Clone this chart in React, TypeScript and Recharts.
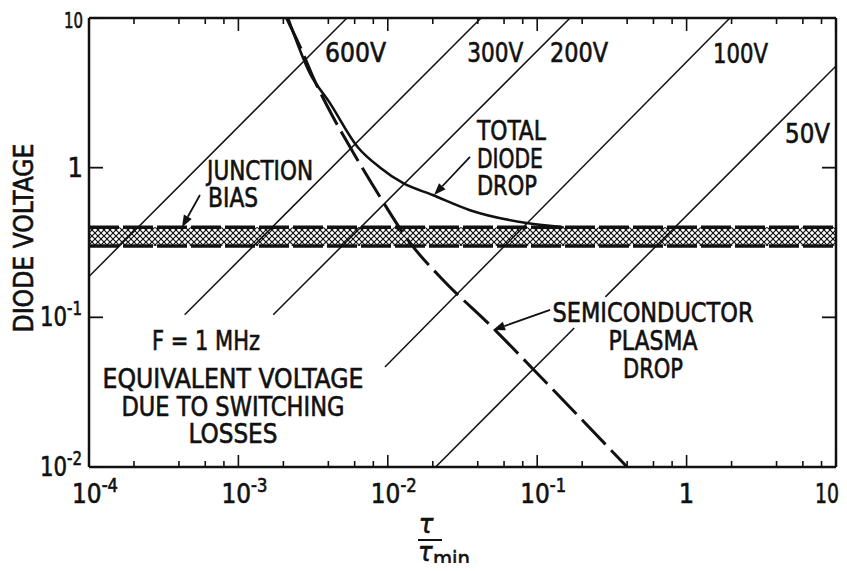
import React from 'react';
import {
  ComposedChart,
  Line,
  XAxis,
  YAxis,
  ReferenceArea,
  ReferenceLine,
  ReferenceDot,
} from 'recharts';

const FONT = "'Liberation Sans Narrow', 'DejaVu Sans Condensed', 'Arial Narrow', sans-serif";
const INK = '#111';

// ---- axes -------------------------------------------------------------
const xDomain: [number, number] = [1e-4, 10];
const xDecades = [1e-4, 1e-3, 1e-2, 1e-1, 1, 10];
const xDecadeLabels = [
  ['10', '-4'],
  ['10', '-3'],
  ['10', '-2'],
  ['10', '-1'],
  ['1', ''],
  ['10', ''],
];
const xMinorSteps = [2, 4, 6, 8];

const yDomain: [number, number] = [0.01, 10];
const yDecades = [0.01, 0.1, 1, 10];
const yDecadeLabels = [
  ['10', '-2'],
  ['10', '-1'],
  ['1', ''],
  ['10', ''],
];

// ---- curves -----------------------------------------------------------
// semiconductor plasma drop (V) versus tau / tau_min
const plasmaTau = [2.1e-3, 2.7e-3, 3.16e-3, 4.3e-3, 5.85e-3, 8.87e-3, 1.41e-2, 2.24e-2, 5.06e-2, 9.23e-2, 0.4];
const plasmaV = [10, 5.84, 4.03, 2.18, 1.27, 0.637, 0.314, 0.186, 0.0849, 0.0459, 0.01];

// total diode drop = plasma drop + junction bias
const totalTau = [2.15e-3, 3.0e-3, 4.1e-3, 6.3e-3, 8.9e-3, 1.26e-2, 2.0e-2, 3.55e-2, 8.5e-2, 0.15];
const totalV = [10, 4.3, 2.7, 1.37, 1.0, 0.79, 0.656, 0.52, 0.427, 0.4];

// junction bias band (V)
const junctionLow = 0.3;
const junctionHigh = 0.4;

// equivalent voltage due to switching losses, F = 1 MHz (straight lines, drawn in pieces)
const lossLabels = ['600V', '300V', '200V', '100V', '50V'];
const lossSegments = [
  { label: '600V', tau: [1e-4, 5.33e-3], v: [0.1876, 10] },
  { label: '300V', tau: [4.37e-4, 0.0421], v: [0.104, 10] },
  { label: '200V', tau: [1.71e-3, 0.166], v: [0.104, 10] },
  { label: '100V', tau: [9.57e-3, 1.95], v: [0.0466, 10] },
  { label: '50V', tau: [0.0209, 0.177], v: [0.01, 0.0849] },
  { label: '50V', tau: [0.286, 10], v: [0.137, 4.78] },
];
// where each voltage name is lettered
const lossLabelTau = [3.8e-3, 3.4e-2, 0.122, 1.5, 4.56];
const lossLabelV = [5.1, 5.1, 5.1, 5.0, 1.46];
const lossLabelWidth = [61, 56, 58, 55, 45];

const toRows = (xs: number[], ys: number[]) => xs.map((tau, i) => ({ tau, v: ys[i] }));
const plasmaRows = toRows(plasmaTau, plasmaV);
const totalRows = toRows(totalTau, totalV);

const xTicks = xDecades
  .flatMap((d) => [d, ...xMinorSteps.map((m) => d * m)])
  .filter((t) => t <= 10 * (1 + 1e-9));

const decadeIndex = (list: number[], v: number) =>
  list.findIndex((d) => Math.abs(Math.log10(d) - Math.log10(v)) < 1e-6);

// ---- drawing helpers ----------------------------------------------------
const TEXT_STYLE = {
  fontFamily: FONT,
  fill: INK,
  stroke: INK,
  strokeWidth: 0.6,
} as const;

function Power({ x, y, base, exp, anchor, width, size = 27 }: any) {
  return (
    <text
      x={x}
      y={y}
      textAnchor={anchor}
      fontSize={size}
      {...TEXT_STYLE}
      textLength={width}
      lengthAdjust={width ? 'spacingAndGlyphs' : undefined}
    >
      <tspan>{base}</tspan>
      {exp ? (
        <tspan dy={-11} fontSize={19}>
          {exp}
        </tspan>
      ) : null}
    </text>
  );
}

function BottomTick(props: any) {
  const { x, y, payload } = props;
  const k = decadeIndex(xDecades, payload.value);
  const major = k >= 0;
  const base = major ? xDecadeLabels[k][0] : '';
  const exp = major ? xDecadeLabels[k][1] : '';
  const last = k === xDecades.length - 1;
  return (
    <g>
      <line x1={x} x2={x} y1={y} y2={y - (major ? 12 : 6)} stroke={INK} strokeWidth={1.6} />
      {major ? (
        <Power
          x={exp ? x + 6 : last ? x + 3 : x}
          y={y + 36}
          base={base}
          exp={exp}
          anchor={last ? 'end' : 'middle'}
          width={exp ? 46 : base.length > 1 ? 24 : undefined}
        />
      ) : null}
    </g>
  );
}

function TopTick(props: any) {
  const { x, y, payload } = props;
  const major = decadeIndex(xDecades, payload.value) >= 0;
  return <line x1={x} x2={x} y1={y} y2={y + (major ? 13 : 6)} stroke={INK} strokeWidth={1.6} />;
}

function LeftTick(props: any) {
  const { x, y, payload } = props;
  const k = decadeIndex(yDecades, payload.value);
  const base = yDecadeLabels[k][0];
  const exp = yDecadeLabels[k][1];
  const top = k === yDecades.length - 1;
  return (
    <g>
      <line x1={x} x2={x + 14} y1={y} y2={y} stroke={INK} strokeWidth={1.8} />
      <Power
        x={exp ? x - 7 : x - 6}
        y={top ? y + 10 : y + 9}
        base={base}
        exp={exp}
        anchor="end"
        size={top ? 22 : 27}
        width={exp ? 42 : base.length > 1 ? 19 : undefined}
      />
    </g>
  );
}

function RightTick(props: any) {
  const { x, y } = props;
  return <line x1={x} x2={x - 14} y1={y} y2={y} stroke={INK} strokeWidth={1.8} />;
}

function Arrow(props: any) {
  const { x1, y1, x2, y2 } = props;
  const ang = Math.atan2(y2 - y1, x2 - x1);
  const len = 12;
  const half = 4.5;
  const bx = x2 - len * Math.cos(ang);
  const by = y2 - len * Math.sin(ang);
  const px = -Math.sin(ang) * half;
  const py = Math.cos(ang) * half;
  return (
    <g>
      <line x1={x1} y1={y1} x2={bx} y2={by} stroke={INK} strokeWidth={1.8} />
      <polygon points={`${x2},${y2} ${bx + px},${by + py} ${bx - px},${by - py}`} fill={INK} />
    </g>
  );
}

function HatchBand(props: any) {
  const { x, y, width, height } = props;
  return (
    <g>
      <defs>
        <pattern id="junction-hatch" width={6} height={6} patternUnits="userSpaceOnUse">
          <rect width={6} height={6} fill="#fff" />
          <path d="M-1,1 l2,-2 M0,6 l6,-6 M5,7 l2,-2" stroke={INK} strokeWidth={1.2} />
          <path d="M-1,5 l2,2 M0,0 l6,6 M5,-1 l2,2" stroke={INK} strokeWidth={1.2} />
        </pattern>
      </defs>
      <rect x={x} y={y} width={width} height={height} fill="url(#junction-hatch)" />
    </g>
  );
}

type TextLine = { t: string; w: number; dx?: number };

// multi-line lettering anchored at a data point; each line is fitted to its width
const textLines =
  (lines: TextLine[], anchor: 'start' | 'middle' | 'end', lineHeight = 28) =>
  (p: any) => {
    const vb = p.viewBox || {};
    const cx = (vb.x ?? 0) + (vb.width ?? 0) / 2;
    const cy = (vb.y ?? 0) + (vb.height ?? 0) / 2;
    return (
      <g>
        {lines.map((l, i) => (
          <text
            key={i}
            x={cx + (l.dx ?? 0)}
            y={cy + i * lineHeight}
            textAnchor={anchor}
            fontSize={27}
            textLength={l.w}
            lengthAdjust="spacingAndGlyphs"
            {...TEXT_STYLE}
          >
            {l.t}
          </text>
        ))}
      </g>
    );
  };

const yTitle = (p: any) => {
  const vb = p.viewBox || { x: 0, y: 10 };
  const tx = vb.x + 25;
  const ty = vb.y + 220;
  return (
    <text
      x={tx}
      y={ty}
      transform={`rotate(-90 ${tx} ${ty})`}
      textAnchor="middle"
      fontSize={27}
      textLength={189}
      lengthAdjust="spacingAndGlyphs"
      {...TEXT_STYLE}
    >
      DIODE VOLTAGE
    </text>
  );
};

const xTitle = (p: any) => {
  const vb = p.viewBox || { x: 81, y: 459 };
  const x0 = vb.x;
  const y0 = vb.y;
  return (
    <g {...TEXT_STYLE}>
      <text x={x0 + 337} y={y0 + 66} textAnchor="middle" fontSize={27} fontStyle="italic">
        τ
      </text>
      <line x1={x0 + 329} x2={x0 + 353} y1={y0 + 73} y2={y0 + 73} stroke={INK} strokeWidth={2} />
      <text x={x0 + 329} y={y0 + 94} fontSize={27} fontStyle="italic">
        τ
      </text>
      <text x={x0 + 344} y={y0 + 99} fontSize={22} textLength={37} lengthAdjust="spacingAndGlyphs">
        min
      </text>
    </g>
  );
};

const AX = { xAxisId: 'b', yAxisId: 'l' } as const;

const CHART_W = 839;
const CHART_H = 563;

export default function App() {
  return (
    <div style={{ width: CHART_W, height: CHART_H, marginRight: -8, marginBottom: -8 }}>
      <ComposedChart width={CHART_W} height={CHART_H} margin={{ top: 0, right: 0, bottom: 0, left: 0 }}>
        <XAxis
          xAxisId="b"
          dataKey="tau"
          type="number"
          scale="log"
          domain={xDomain}
          allowDataOverflow
          ticks={xTicks}
          interval={0}
          orientation="bottom"
          height={104}
          tickLine={false}
          tickSize={0}
          tickMargin={0}
          tick={(p: any) => <BottomTick {...p} />}
          axisLine={{ stroke: INK, strokeWidth: 2.5 }}
          label={xTitle}
        />
        <XAxis
          xAxisId="t"
          dataKey="tau"
          type="number"
          scale="log"
          domain={xDomain}
          allowDataOverflow
          ticks={xTicks}
          interval={0}
          orientation="top"
          height={10}
          tickLine={false}
          tickSize={0}
          tickMargin={0}
          tick={(p: any) => <TopTick {...p} />}
          axisLine={{ stroke: INK, strokeWidth: 2.5 }}
        />
        <YAxis
          yAxisId="l"
          dataKey="v"
          type="number"
          scale="log"
          domain={yDomain}
          allowDataOverflow
          ticks={yDecades}
          interval={0}
          width={81}
          tickLine={false}
          tickSize={0}
          tickMargin={0}
          tick={(p: any) => <LeftTick {...p} />}
          axisLine={{ stroke: INK, strokeWidth: 2.5 }}
          label={yTitle}
        />
        <YAxis
          yAxisId="r"
          orientation="right"
          dataKey="v"
          type="number"
          scale="log"
          domain={yDomain}
          allowDataOverflow
          ticks={[0.1, 1]}
          interval={0}
          width={11}
          tickLine={false}
          tickSize={0}
          tickMargin={0}
          tick={(p: any) => <RightTick {...p} />}
          axisLine={{ stroke: INK, strokeWidth: 2.5 }}
        />

        {/* junction bias band */}
        <ReferenceArea {...AX} y1={junctionLow} y2={junctionHigh} shape={(p: any) => <HatchBand {...p} />} />
        <ReferenceLine {...AX} y={junctionHigh} stroke={INK} strokeWidth={3.5} strokeDasharray="30 4" />
        <ReferenceLine {...AX} y={junctionLow} stroke={INK} strokeWidth={3.5} strokeDasharray="30 4" />

        {/* switching loss lines */}
        {lossSegments.map((s, i) => (
          <Line
            key={`loss-${i}`}
            {...AX}
            data={toRows(s.tau, s.v)}
            dataKey="v"
            type="linear"
            stroke={INK}
            strokeWidth={1.5}
            dot={false}
            activeDot={false}
            isAnimationActive={false}
          />
        ))}

        {/* plasma drop and total drop */}
        <Line
          {...AX}
          data={plasmaRows}
          dataKey="v"
          type="monotone"
          stroke={INK}
          strokeWidth={3}
          strokeDasharray="34 8"
          dot={false}
          activeDot={false}
          isAnimationActive={false}
        />
        <Line
          {...AX}
          data={totalRows}
          dataKey="v"
          type="monotone"
          stroke={INK}
          strokeWidth={2.6}
          dot={false}
          activeDot={false}
          isAnimationActive={false}
        />

        {/* voltage names */}
        {lossLabels.map((name, i) => (
          <ReferenceDot
            key={name}
            {...AX}
            x={lossLabelTau[i]}
            y={lossLabelV[i]}
            r={0}
            fill="none"
            stroke="none"
            ifOverflow="visible"
            label={textLines([{ t: name, w: lossLabelWidth[i] }], 'start')}
          />
        ))}

        {/* callouts */}
        <ReferenceDot {...AX} x={0.0395} y={1.53} r={0} fill="none" stroke="none" ifOverflow="visible"
          label={textLines([{ t: 'TOTAL', w: 69 }, { t: 'DIODE', w: 66 }, { t: 'DROP', w: 60 }], 'start', 27.5)} />
        <ReferenceLine {...AX} segment={[{ x: 0.0355, y: 1.18 }, { x: 0.0204, y: 0.657 }]} shape={(p: any) => <Arrow {...p} />} ifOverflow="visible" />

        <ReferenceDot {...AX} x={6.17e-4} y={0.828} r={0} fill="none" stroke="none" ifOverflow="visible"
          label={textLines([{ t: 'JUNCTION', w: 106 }, { t: 'BIAS', w: 50, dx: 1 }], 'start', 27)} />
        <ReferenceLine {...AX} segment={[{ x: 5.53e-4, y: 0.657 }, { x: 4.19e-4, y: 0.4 }]} shape={(p: any) => <Arrow {...p} />} ifOverflow="visible" />

        <ReferenceDot {...AX} x={0.596} y={0.0931} r={0} fill="none" stroke="none" ifOverflow="visible"
          label={textLines([{ t: 'SEMICONDUCTOR', w: 201 }, { t: 'PLASMA', w: 89 }, { t: 'DROP', w: 60 }], 'middle', 28)} />
        <ReferenceLine {...AX} segment={[{ x: 0.122, y: 0.112 }, { x: 0.0506, y: 0.0822 }]} shape={(p: any) => <Arrow {...p} />} ifOverflow="visible" />

        <ReferenceDot {...AX} x={2.64e-4} y={0.0605} r={0} fill="none" stroke="none" ifOverflow="visible"
          label={textLines([{ t: 'F = 1 MHz', w: 108 }], 'start')} />
        <ReferenceDot {...AX} x={9.2e-4} y={0.0337} r={0} fill="none" stroke="none" ifOverflow="visible"
          label={textLines(
            [{ t: 'EQUIVALENT VOLTAGE', w: 261 }, { t: 'DUE TO SWITCHING', w: 223 }, { t: 'LOSSES', w: 89 }],
            'middle',
            27.5,
          )} />
      </ComposedChart>
    </div>
  );
}
